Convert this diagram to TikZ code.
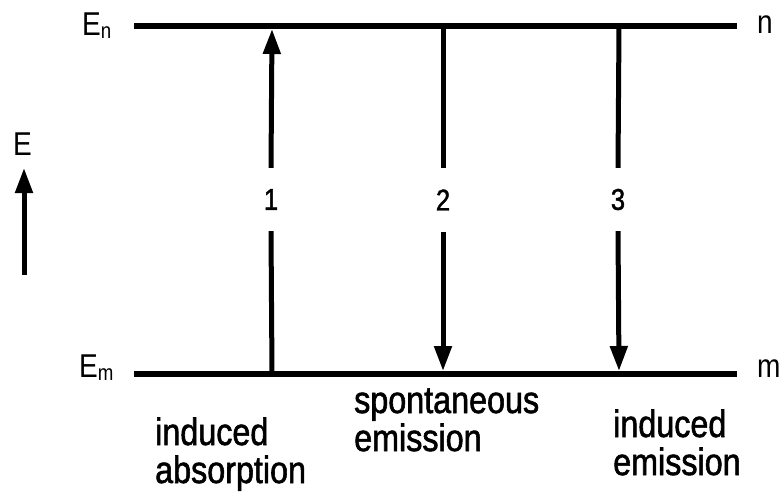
\documentclass[tikz,border=0pt]{standalone}
\usepackage{fontspec}
\setmainfont[FakeStretch=0.85]{Liberation Sans}
\newfontfamily\capfont[FakeStretch=0.85,FakeBold=1.5]{Liberation Sans}
\usetikzlibrary{arrows.meta}
\begin{document}
\begin{tikzpicture}[x=1pt,y=-1pt,
  level/.style={line width=5.5pt},
  trans/.style={line width=5pt},
  tip/.style={-{Triangle[length=25pt,width=17pt]}},
  big/.style={font=\capfont\fontsize{38}{38}\selectfont, inner sep=0pt, align=left},
  lvl/.style={font=\fontsize{33}{36}\selectfont, inner sep=0pt},
  side/.style={font=\fontsize{33}{33}\selectfont, inner sep=0pt},
  num/.style={font=\capfont\fontsize{30}{30}\selectfont, inner sep=0pt, minimum height=63pt, minimum width=20pt},
]
\useasboundingbox (0,0) rectangle (784,496);
% levels
\coordinate (tl) at (134,26);
\coordinate (tr) at (737,26);
\coordinate (bl) at (134,374);
\coordinate (br) at (737,374);
\draw[level] (tl) -- (tr);
\draw[level] (bl) -- (br);
% level labels
\node[lvl, anchor=base west] (En) at (82,35) {E\raisebox{-3pt}{\fontsize{22}{22}\selectfont n}};
\node[lvl, anchor=base west] (Em) at (79,377) {E\raisebox{-3pt}{\fontsize{22}{22}\selectfont m}};
\node[side, anchor=base west] (n) at (757,33) {n};
\node[side, anchor=base west] (m) at (757,377) {m};
% energy axis
\node[lvl, anchor=base west] (Eax) at (13,155) {E};
\coordinate (eb) at (24,275);
\coordinate (et) at (24,168);
\draw[trans,tip] (eb) -- (et);
% transition 1
\coordinate (a1b) at (272,374);
\coordinate (a1t) at (272,29);
\node[num] (n1) at (271,199.5) {1};
\draw[trans] (a1b) -- (n1.south);
\draw[trans,tip] (n1.north) -- (a1t);
% transition 2
\coordinate (a2t) at (443,26);
\coordinate (a2b) at (443,371);
\node[num] (n2) at (443,200) {2};
\draw[trans] (a2t) -- (n2.north);
\draw[trans,tip] (n2.south) -- (a2b);
% transition 3
\coordinate (a3t) at (619,26);
\coordinate (a3b) at (619,371);
\node[num] (n3) at (618,199.5) {3};
\draw[trans] (a3t) -- (n3.north);
\draw[trans,tip] (n3.south) -- (a3b);
% captions
\node[big, anchor=base west] (c1) at (155,483) {induced\\absorption};
\node[big, anchor=base west] (c2) at (354,451) {spontaneous\\emission};
\node[big, anchor=base west] (c3) at (613,475) {induced\\emission};
\end{tikzpicture}
\end{document}
